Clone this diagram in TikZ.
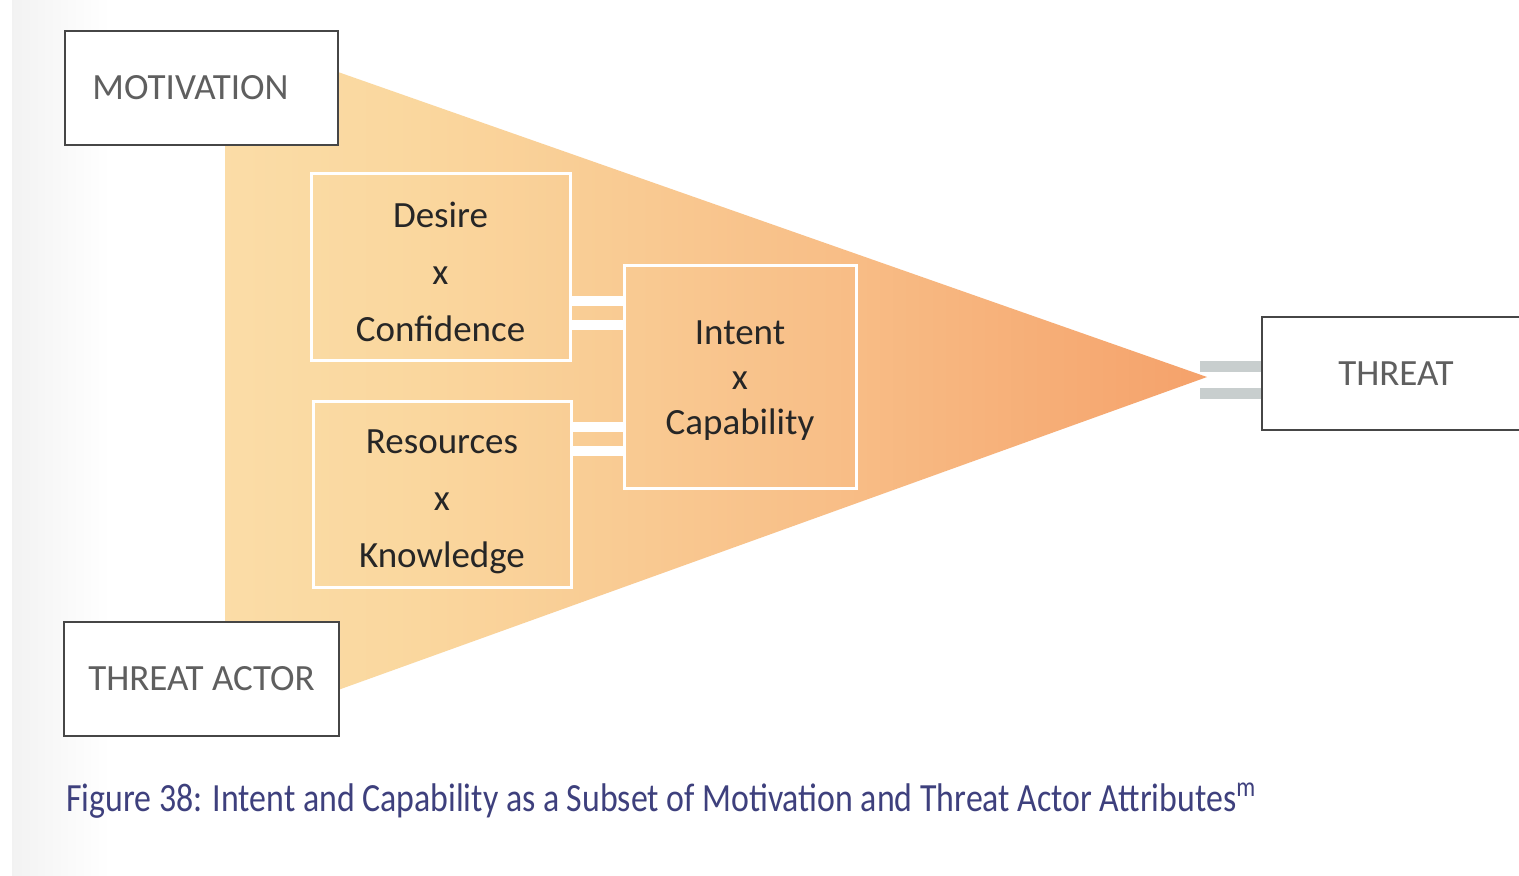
\documentclass[tikz,border=0pt]{standalone}
\usepackage{fontspec}
\setmainfont{Carlito}
\usetikzlibrary{calc}
\definecolor{fanA}{RGB}{252,232,186}
\definecolor{fanB}{RGB}{250,215,158}
\definecolor{fanC}{RGB}{248,190,135}
\definecolor{fanD}{RGB}{245,163,108}
\definecolor{fanE}{RGB}{243,146,92}
\definecolor{boxline}{RGB}{70,70,70}
\definecolor{outtext}{RGB}{95,95,95}
\definecolor{intext}{RGB}{38,38,38}
\definecolor{capcol}{RGB}{62,64,125}
\definecolor{greybar}{RGB}{200,206,206}
\pgfdeclarehorizontalshading{fanshade}{100bp}{color(0bp)=(fanA); color(3bp)=(fanA); color(35bp)=(fanB); color(56bp)=(fanC); color(74bp)=(fanD); color(92bp)=(fanE); color(100bp)=(fanE)}
\tikzset{
  outerbox/.style={draw=boxline, line width=0.8pt, fill=white, text=outtext,
    font=\fontsize{18.5}{22}\selectfont, inner sep=0pt},
  innerbox/.style={draw=white, line width=1.5pt, text=intext, align=center,
    font=\fontsize{18.5}{28.5}\selectfont, inner sep=0pt},
  wbar/.style={draw=white, line width=5pt},
  gbar/.style={draw=greybar, line width=5.5pt},
}
\begin{document}
\begin{tikzpicture}[x=0.5pt,y=-0.5pt]
\path[use as bounding box] (0,0) rectangle (1519,875);
\clip (0,0) rectangle (1519,875);
\fill[white] (0,0) rectangle (1519,875);
\shade[left color=black!5, right color=white] (12,0) rectangle (110,875);
% fan
\coordinate (tip) at (1207,377);
\shade[shading=fanshade] (225,72) -- (338,72) -- (tip) -- (338,690) -- (225,690) -- cycle;
% outer boxes
\node[outerbox, minimum width=136.5pt, minimum height=57pt] (motivation) at (201.5,88) {\hspace*{-11pt}MOTIVATION};
\node[outerbox, minimum width=137.5pt, minimum height=57pt] (actor) at (201.5,679) {THREAT ACTOR};
\node[outerbox, minimum width=134pt, minimum height=56.5pt] (threat) at (1396,373.5) {THREAT};
% inner boxes
\node[innerbox, minimum width=129.5pt, minimum height=93.5pt] (desire) at (440.5,266.5) {\rule{0pt}{18pt}Desire\\x\\Confidence};
\node[innerbox, minimum width=129pt, minimum height=93pt] (resources) at (442,494) {\rule{0pt}{20pt}Resources\\x\\Knowledge};
\node[innerbox, minimum width=116pt, minimum height=111.5pt,
  font=\fontsize{18.5}{22.5}\selectfont] (intent) at (740,376.5) {\rule{0pt}{16pt}Intent\\x\\Capability};
% white double bars
\draw[wbar] ($(desire.east)+(0,34.5)$) coordinate (d1) -- (d1 -| intent.west);
\draw[wbar] ($(desire.east)+(0,58.5)$) coordinate (d2) -- (d2 -| intent.west);
\draw[wbar] ($(resources.east)+(0,-67)$) coordinate (r1) -- (r1 -| intent.west);
\draw[wbar] ($(resources.east)+(0,-43)$) coordinate (r2) -- (r2 -| intent.west);
% grey double bars
\draw[gbar] ($(tip)+(-7,-11)$) coordinate (t1) -- (t1 -| threat.west);
\draw[gbar] ($(tip)+(-7,16)$) coordinate (t2) -- (t2 -| threat.west);
% caption
\node[anchor=west, text=capcol, inner sep=0pt] (caption) at (66,801)
  {\scalebox{0.846}[1]{\fontsize{20}{24}\selectfont Figure 38: Intent and Capability as a Subset of Motivation and Threat Actor Attributes\textsuperscript{m}}};
\end{tikzpicture}
\end{document}
